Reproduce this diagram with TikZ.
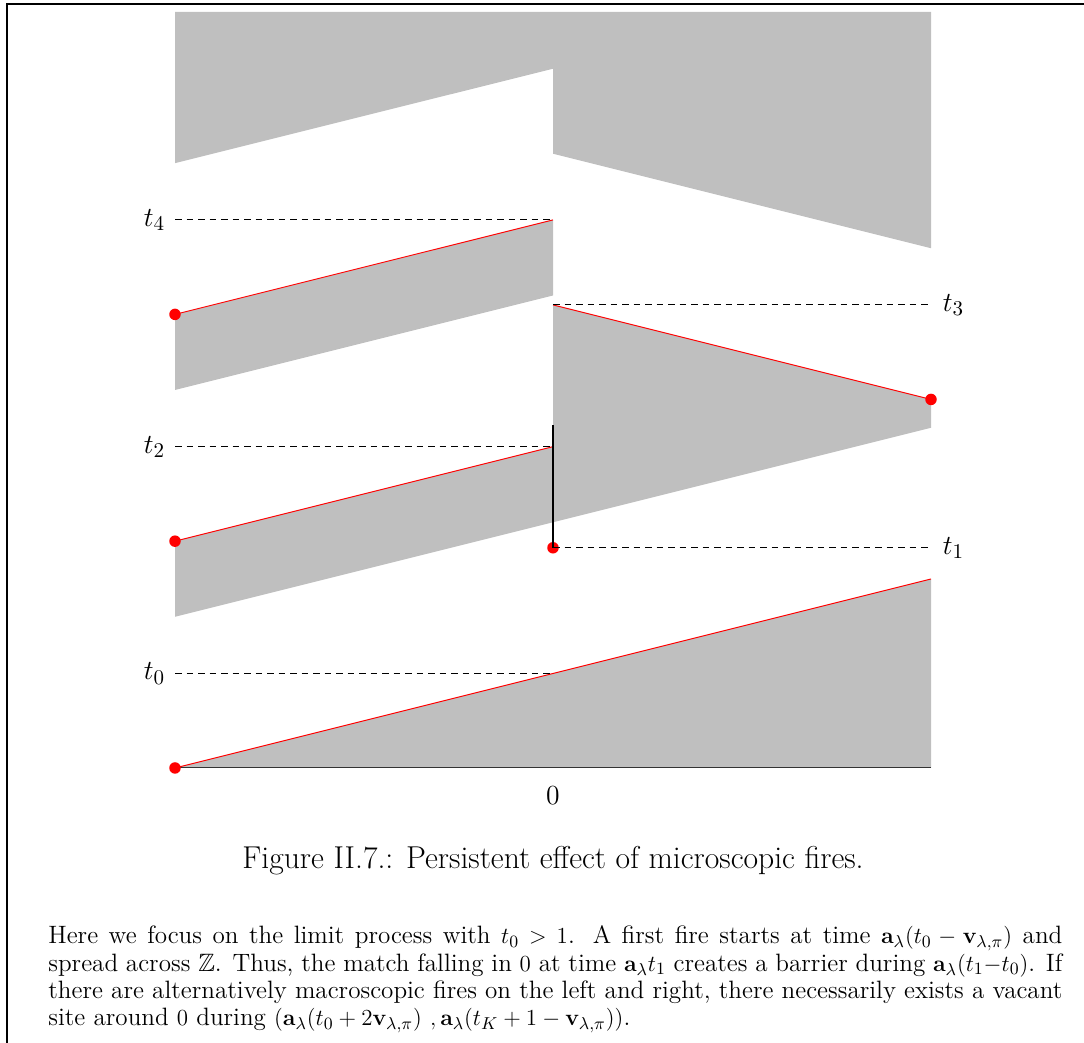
\documentclass[tikz,border=0pt]{standalone}
\usepackage{amsmath,amssymb}
\usepackage{tikz}
\usetikzlibrary{positioning}

\begin{document}
\begin{tikzpicture}[
  x=6.931cm, y=1.7327cm,
  zone/.style={fill=lightgray, draw=none},
  front/.style={red, line width=0.5pt},
  fire/.style={circle, fill=red, inner sep=0pt, minimum size=6pt},
  lvl/.style={dash pattern=on 3.5pt off 2.5pt, line width=0.5pt},
  lbl/.style={font=\fontsize{15.8}{19}\selectfont, inner sep=3pt},
]
  \useasboundingbox (-1.463,-2.910) rectangle (1.4048,8.127);
  % page frame
  \draw[line width=1.05pt] (-1.4444,-3) -- (-1.4444,8.085) -- (1.5,8.085);

  % burnt zones
  \fill[zone] (-1,0) -- (1,2) -- (1,0) -- cycle;
  \fill[zone] (-1,1.6) -- (-1,2.4) -- (0,3.4) -- (0,2.6) -- cycle;
  \fill[zone] (0,2.6) -- (0,4.9) -- (1,3.9) -- (1,3.6) -- cycle;
  \fill[zone] (-1,4.0) -- (-1,4.8) -- (0,5.8) -- (0,5.0) -- cycle;
  \fill[zone] (-1,8) -- (1,8) -- (1,5.5) -- (0,6.5) -- (0,7.4) -- (-1,6.4) -- cycle;
  \draw[black!80, line width=0.5pt] (-1,0) -- (1,0);

  % fronts and ignitions
  \node[fire] (f0) at (-1,0) {};
  \node[fire] (f1) at (0,2.33) {};
  \node[fire] (f2) at (-1,2.4) {};
  \node[fire] (f3) at (1,3.9) {};
  \node[fire] (f4) at (-1,4.8) {};
  \coordinate (e0) at (1,2);
  \coordinate (e2) at (0,3.4);
  \coordinate (e3) at (0,4.9);
  \coordinate (e4) at (0,5.8);
  \draw[front] (f0.center) -- (e0);
  \draw[front] (f2.center) -- (e2);
  \draw[front] (e3) -- (f3.center);
  \draw[front] (f4.center) -- (e4);

  % barrier at 0
  \coordinate (b1) at (0,3.63);
  \draw[line width=1pt] (f1.center) -- (b1);

  % time levels
  \coordinate (l0) at (-1,1);   \coordinate (r0) at (0,1);
  \coordinate (l2) at (-1,3.4);
  \coordinate (l4) at (-1,5.8);
  \coordinate (r1) at (1,2.33);
  \coordinate (r3) at (1,4.9);
  \draw[lvl] (l0) -- (r0);
  \draw[lvl] (l2) -- (e2);
  \draw[lvl] (l4) -- (e4);
  \draw[lvl] (f1.center) -- (r1);
  \draw[lvl] (e3) -- (r3);
  \node[lbl, left=2pt of l0] (t0) {$t_0$};
  \node[lbl, left=2pt of l2] (t2) {$t_2$};
  \node[lbl, left=2pt of l4] (t4) {$t_4$};
  \node[lbl, right=3pt of r1] (t1) {$t_1$};
  \node[lbl, right=3pt of r3] (t3) {$t_3$};
  \node[lbl] (zero) at (0,-0.29) {$0$};

  % caption and text
  \node[font=\fontsize{16.5}{19.8}\selectfont, anchor=base] (cap) at (0,-1.069)
    {Figure II.7.: Persistent effect of microscopic fires.};
  \node[font=\fontsize{13.1}{14.2}\selectfont, text width=529pt, align=justify,
        anchor=base west, inner sep=0pt] (txt) at (-1.336,-1.862)
    {Here we focus on the limit process with $t_0>1$. A first fire starts at time
     $\mathbf{a}_\lambda(t_0-\mathbf{v}_{\lambda,\pi})$ and\linebreak
     spread across $\mathbb{Z}$. Thus, the match falling in $0$ at time
     $\mathbf{a}_\lambda t_1$ creates a barrier during $\mathbf{a}_\lambda(t_1{-}t_0)$. If\linebreak
     there are alternatively macroscopic fires on the left and right, there necessarily exists a vacant\linebreak
     site around $0$ during $(\mathbf{a}_\lambda(t_0+2\mathbf{v}_{\lambda,\pi})\ ,
     \mathbf{a}_\lambda(t_K+1-\mathbf{v}_{\lambda,\pi}))$.};
\end{tikzpicture}
\end{document}
